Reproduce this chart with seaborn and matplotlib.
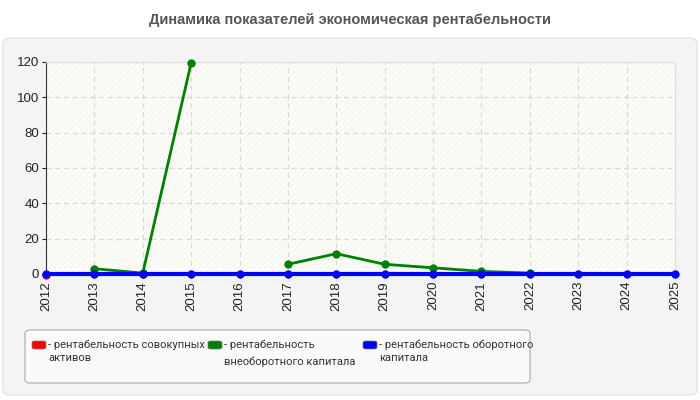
import numpy as np
import pandas as pd
import seaborn as sns
import matplotlib.pyplot as plt
from matplotlib.patches import FancyBboxPatch, Rectangle

# data
years = list(range(2012, 2026))
red_vals = [-0.4, 0.3, 0.0] + [np.nan] * 11
green_vals = [np.nan, 3.0, 0.5, 119.5, np.nan, 5.5, 11.5, 5.5, 3.5, 1.5, 0.5,
              np.nan, np.nan, np.nan]
blue_vals = [0.0] * 14
labels = ["- рентабельность совокупных\nактивов",
          "- рентабельность\nвнеоборотного капитала",
          "- рентабельность оборотного\nкапитала"]
colors = ["#ff0000", "#008000", "#0000ff"]
title = "Динамика показателей экономическая рентабельности"

sns.set_style("white")
plt.rcParams['font.family'] = ['Liberation Sans', 'DejaVu Sans']

fig = plt.figure(figsize=(7, 4), dpi=100)

# outer panel
fig.patches.append(FancyBboxPatch((3 / 700, 5 / 400), 694 / 700, 357 / 400,
                                  boxstyle="round,pad=0,rounding_size=0.012",
                                  transform=fig.transFigure, facecolor="#f4f4f4",
                                  edgecolor="#e4e4e4", lw=1, zorder=-10))
fig.text(0.5, 1 - 20 / 400, title, ha="center", va="center", fontsize=10.5,
         fontweight="bold", color="#555555")

ax = fig.add_axes([46 / 700, 1 - 274 / 400, 629 / 700, 212 / 400])
ax.set_facecolor("#fdfdf8")
ax.add_patch(Rectangle((0, 0), 1, 1, transform=ax.transAxes, facecolor="none",
                       hatch="//////", edgecolor="#f5f5f1", lw=0, zorder=0))


def segments(vals):
    df = pd.DataFrame({"year": years, "val": vals})
    df["seg"] = df["val"].isna().cumsum()
    return df.dropna()


for vals, c, lw in zip([red_vals, green_vals, blue_vals], colors, [2, 2, 3]):
    df = segments(vals)
    sns.lineplot(data=df, x="year", y="val", units="seg", estimator=None,
                 color=c, lw=lw, marker="o", markersize=6, markeredgewidth=0,
                 ax=ax, zorder=3, clip_on=False)

ax.set_xlim(2012, 2025)
ax.set_ylim(0, 120)
ax.set_xticks(years)
ax.set_xticklabels([str(y) for y in years], rotation=90)
ax.set_yticks(range(0, 121, 20))
ax.set_xlabel("")
ax.set_ylabel("")
ax.grid(True, color="#d8d8d8", ls=(0, (4, 3)), lw=0.9)
ax.tick_params(axis="both", labelsize=9.5, colors="#222222", length=3,
               direction="out", bottom=True, left=True, pad=2)
for s in ["top", "right"]:
    ax.spines[s].set_color("#dddddd")
    ax.spines[s].set_linewidth(0.8)
for s in ["left", "bottom"]:
    ax.spines[s].set_color("#333333")
    ax.spines[s].set_linewidth(0.8)

# legend
fig.patches.append(FancyBboxPatch((25 / 700, 17 / 400), 505 / 700, 53 / 400,
                                  boxstyle="round,pad=0,rounding_size=0.008",
                                  transform=fig.transFigure, facecolor="#fafafa",
                                  edgecolor="#aaaaaa", lw=0.8, zorder=-5))
for px, lab, c, sp in zip([32, 208, 363], labels, colors, [1.3, 1.65, 1.3]):
    fig.patches.append(FancyBboxPatch((px / 700, 1 - 349 / 400), 14 / 700, 8 / 400,
                                      boxstyle="round,pad=0,rounding_size=0.004",
                                      transform=fig.transFigure, facecolor=c,
                                      edgecolor="#777777", lw=0.5))
    fig.text((px + 16) / 700, 1 - 340 / 400, lab, ha="left", va="top",
             fontsize=8, color="#333333", linespacing=sp,
             family=['Roboto', 'DejaVu Sans'])

fig.savefig("out.png", dpi=100)
